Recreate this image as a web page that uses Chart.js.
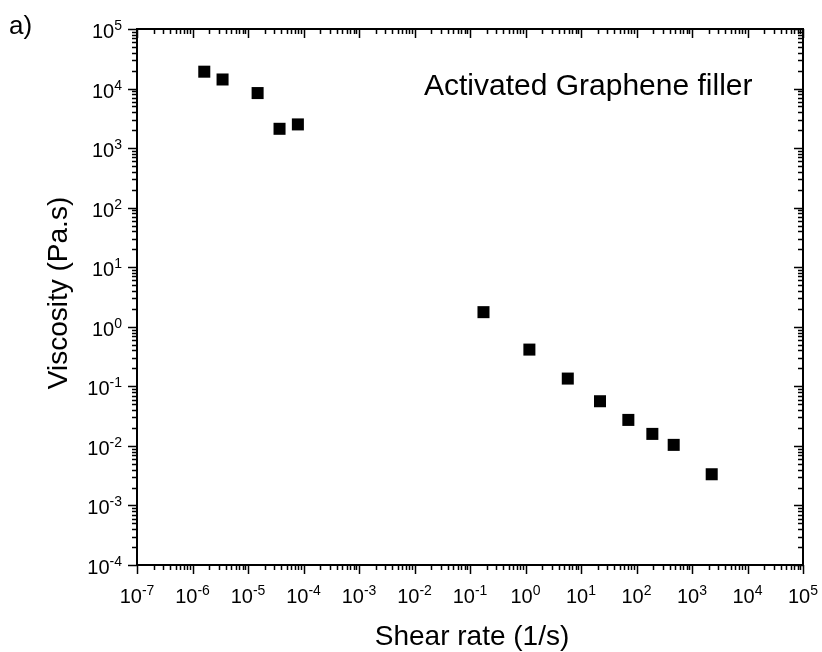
<!DOCTYPE html>
<html>
<head>
<meta charset="utf-8">
<title>Viscosity vs shear rate</title>
<script src="https://cdn.jsdelivr.net/npm/chart.js@4/dist/chart.umd.min.js"></script>
<style>
    body { margin: 0; background: #fff; }
    #wrap { width: 822px; height: 652px; position: relative; }
</style>
</head>
<body>
<div id="wrap"><canvas id="viscChart"></canvas></div>
<script>
// values
const shearRate = [1.63e-6, 3.48e-6, 1.49e-5, 3.70e-5, 7.92e-5,
                   0.175, 1.175, 5.78, 22.0, 71.3, 193, 468, 2265];
const viscosity = [19200, 14200, 8400, 2110, 2500,
                   1.76, 0.414, 0.135, 0.0562, 0.0273, 0.0159, 0.0104, 0.00334];

const xExponents = [-7, -6, -5, -4, -3, -2, -1, 0, 1, 2, 3, 4, 5];
const yExponents = [-4, -3, -2, -1, 0, 1, 2, 3, 4, 5];

const panelLabel = "a)";
const noteText = "Activated Graphene filler";
const xTitle = "Shear rate (1/s)";
const yTitle = "Viscosity (Pa.s)";

const FONT = "'Liberation Sans', Arial, sans-serif";

/* global Chart */

function drawPower(ctx, exp, x, y, align)
{
    // "10" with a raised exponent; y = baseline of "10"
    ctx.font = "20px " + FONT;
    const baseW = ctx.measureText("10").width;
    ctx.font = "14px " + FONT;
    const supW = ctx.measureText(String(exp)).width;
    const w = baseW + supW;
    let left = x - w / 2;
    if (align === "right") left = x - w;
    ctx.textAlign = "left";
    ctx.textBaseline = "alphabetic";
    ctx.font = "20px " + FONT;
    ctx.fillText("10", left, y);
    ctx.font = "14px " + FONT;
    ctx.fillText(String(exp), left + baseW, y - 8);
}

const axesPlugin = {
    id: "axesPlugin",
    afterDraw(chart)
    {
        const ctx = chart.ctx;
        const xs = chart.scales.x;
        const ys = chart.scales.y;
        const a = chart.chartArea;

        ctx.save();
        ctx.strokeStyle = "#000";
        ctx.fillStyle = "#000";

        // ticks: outward on bottom/left, inward on top/right
        ctx.lineWidth = 1.5;
        ctx.beginPath();
        for (let e = xExponents[0]; e <= xExponents[xExponents.length - 1]; e++)
        {
            for (let m = 1; m <= 9; m++)
            {
                if (e === xExponents[xExponents.length - 1] && m > 1) break;
                const px = Math.round(xs.getPixelForValue(m * Math.pow(10, e))) + 0.5;
                const len = m === 1 ? 9 : 5;
                ctx.moveTo(px, a.bottom);
                ctx.lineTo(px, a.bottom + len);
                ctx.moveTo(px, a.top);
                ctx.lineTo(px, a.top + len);
            }
        }
        for (let e = yExponents[0]; e <= yExponents[yExponents.length - 1]; e++)
        {
            for (let m = 1; m <= 9; m++)
            {
                if (e === yExponents[yExponents.length - 1] && m > 1) break;
                const py = Math.round(ys.getPixelForValue(m * Math.pow(10, e))) + 0.5;
                const len = m === 1 ? 9 : 5;
                ctx.moveTo(a.left, py);
                ctx.lineTo(a.left - len, py);
                ctx.moveTo(a.right, py);
                ctx.lineTo(a.right - len, py);
            }
        }
        ctx.stroke();

        // frame
        ctx.lineWidth = 2;
        ctx.strokeRect(a.left, a.top, a.right - a.left, a.bottom - a.top);

        // tick labels
        xExponents.forEach(e => {
            drawPower(ctx, e, xs.getPixelForValue(Math.pow(10, e)), a.bottom + 38, "center");
        });
        yExponents.forEach(e => {
            drawPower(ctx, e, a.left - 15, ys.getPixelForValue(Math.pow(10, e)) + 9, "right");
        });

        // titles and notes
        ctx.textBaseline = "alphabetic";
        ctx.font = "28px " + FONT;
        ctx.textAlign = "center";
        ctx.fillText(xTitle, (a.left + a.right) / 2 + 2, 645);

        ctx.save();
        ctx.translate(67, 293);
        ctx.rotate(-Math.PI / 2);
        ctx.fillText(yTitle, 0, 0);
        ctx.restore();

        ctx.textAlign = "left";
        ctx.font = "30px " + FONT;
        ctx.fillText(noteText, 424, 95);

        ctx.font = "26px " + FONT;
        ctx.fillText(panelLabel, 9, 34);

        ctx.restore();
    }
};

const points = shearRate.map((x, i) => ({ x: x, y: viscosity[i] }));

const viscChart = new Chart(
    document.getElementById("viscChart"),
    {
        type: "scatter",
        data: {
            datasets: [{
                label: "Activated Graphene filler",
                data: points,
                pointStyle: "rect",
                pointRadius: 8.5,
                pointHoverRadius: 8.5,
                backgroundColor: "#000",
                borderColor: "#000",
                borderWidth: 0
            }]
        },
        options: {
            responsive: true,
            maintainAspectRatio: false,
            animation: false,
            devicePixelRatio: 1,
            layout: {
                padding: { left: 137, right: 19, top: 29, bottom: 87 }
            },
            plugins: {
                legend: { display: false },
                tooltip: { enabled: false }
            },
            scales: {
                x: {
                    type: "logarithmic",
                    min: 1e-7,
                    max: 1e5,
                    display: false
                },
                y: {
                    type: "logarithmic",
                    min: 1e-4,
                    max: 1e5,
                    display: false
                }
            }
        },
        plugins: [axesPlugin]
    }
);
</script>
</body>
</html>
